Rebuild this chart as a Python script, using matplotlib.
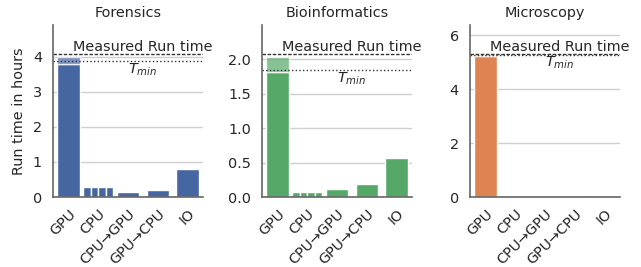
import matplotlib
matplotlib.use("Agg")
import matplotlib.pyplot as plt
import matplotlib.transforms as mtransforms
import numpy as np

# categories and values (hours)
DOMAINS = ["Forensics", "Bioinformatics", "Microscopy"]
CATEGORIES = ["GPU", "CPU", "CPU→GPU", "GPU→CPU", "IO"]

GPU_BASE = [3.79, 1.82, 5.24]        # dark part of GPU bar
GPU_TOP = [3.98, 2.04, 5.25]         # top of light part of GPU bar
CPU_CORES = [[0.30, 0.30, 0.30, 0.30],
             [0.07, 0.07, 0.07, 0.07],
             [0.0, 0.0, 0.0, 0.0]]
CPU_TO_GPU = [0.13, 0.11, 0.0]
GPU_TO_CPU = [0.20, 0.19, 0.0]
IO_TIME = [0.79, 0.57, 0.0]
MEASURED = [4.08, 2.08, 5.31]
T_MIN = [3.86, 1.84, 5.28]
YTICKS = [[0, 1, 2, 3, 4], [0.0, 0.5, 1.0, 1.5, 2.0], [0, 2, 4, 6]]
YTICKLABELS = [["0", "1", "2", "3", "4"],
               ["0.0", "0.5", "1.0", "1.5", "2.0"],
               ["0", "2", "4", "6"]]

COLOURS = ["#4566a0", "#55a868", "#dd8452"]
TEXT = "#262626"
SPINE = "#666666"
FS = 10.4

plt.rcParams.update({
    "font.family": "DejaVu Sans",
    "font.size": FS,
    "text.color": TEXT,
    "axes.labelcolor": TEXT,
    "xtick.color": TEXT,
    "ytick.color": TEXT,
})

fig = plt.figure(figsize=(6.41, 2.67), dpi=100)
lefts = [0.0827, 0.4087, 0.7332]
width = 0.234
bottom, height = 0.262, 0.644

x = np.arange(len(CATEGORIES))
bw = 0.75
shift = mtransforms.ScaledTranslation(5 / 72, 0, fig.dpi_scale_trans)
for k, dom in enumerate(DOMAINS):
    ax = fig.add_axes([lefts[k], bottom, width, height])
    col = COLOURS[k]
    ax.set_axisbelow(True)
    ax.yaxis.grid(True, color="#d0d0d0", linewidth=1.0)

    # GPU bar: dark base plus lighter overhead
    ax.bar(x[0], GPU_BASE[k], bw, color=col, edgecolor="white", linewidth=1)
    ax.bar(x[0], GPU_TOP[k] - GPU_BASE[k], bw, bottom=GPU_BASE[k],
           color=col, alpha=0.7, edgecolor="white", linewidth=1)
    # CPU: one thin bar per core
    n = len(CPU_CORES[k])
    cw = 1.0 / n
    offs = (np.arange(n) - (n - 1) / 2) * cw
    ax.bar(x[1] + offs, CPU_CORES[k], cw, color=col, edgecolor="white", linewidth=1)
    ax.bar(x[2:], [CPU_TO_GPU[k], GPU_TO_CPU[k], IO_TIME[k]], bw,
           color=col, edgecolor="white", linewidth=1)

    ax.axhline(MEASURED[k], color="#333333", linestyle="--", linewidth=1.0, dashes=(2.5, 1.2))
    ax.axhline(T_MIN[k], color="#333333", linestyle=":", linewidth=1.0)
    ax.text(2.5, MEASURED[k], "Measured Run time", ha="center", va="bottom",
            fontsize=FS, clip_on=False)
    ax.text(2.5, T_MIN[k], "$T_{min}$", ha="center", va="top", fontsize=FS)

    ax.set_xlim(-0.52, 4.52)
    ax.set_ylim(0, MEASURED[k] * 1.2)
    ax.set_yticks(YTICKS[k])
    ax.set_yticklabels(YTICKLABELS[k])
    ax.set_xticks(x)
    ax.set_xticklabels(CATEGORIES, rotation=45, ha="right", rotation_mode="anchor")
    for lab in ax.get_xticklabels():
        lab.set_transform(lab.get_transform() + shift)
    ax.tick_params(axis="y", length=0, pad=8)
    ax.tick_params(axis="x", length=0, pad=7)
    ax.set_title(dom, fontsize=FS, pad=6)

    for s in ["top", "right"]:
        ax.spines[s].set_visible(False)
    for s in ["left", "bottom"]:
        ax.spines[s].set_color(SPINE)
        ax.spines[s].set_linewidth(1.2)

    if k == 0:
        ax.set_ylabel("Run time in hours", labelpad=5)

fig.savefig("out.png", dpi=100)
